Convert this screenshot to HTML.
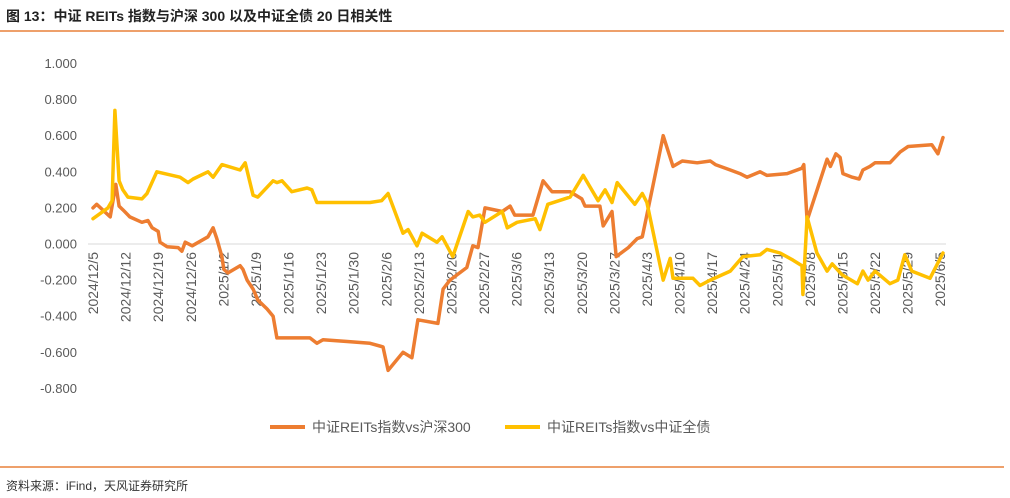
<!DOCTYPE html>
<html><head><meta charset="utf-8"><style>
body{margin:0;background:#fff;width:1010px;height:498px;overflow:hidden;font-family:"Liberation Sans","Noto Sans CJK SC",sans-serif}
</style></head><body>
<svg id="c" width="1010" height="498" style="position:absolute;left:0;top:0">
<text x="6" y="21" font-size="14" font-weight="bold" fill="#222" font-family="Liberation Sans, Noto Sans CJK SC, sans-serif">图 13：中证 REITs 指数与沪深 300 以及中证全债 20 日相关性</text>
<line x1="0" y1="31" x2="1004" y2="31" stroke="#e8803a" stroke-width="1.5"/>
<line x1="0" y1="467" x2="1004" y2="467" stroke="#e8803a" stroke-width="1.5"/>
<text x="6" y="490" font-size="12" fill="#333" font-family="Liberation Sans, Noto Sans CJK SC, sans-serif">资料来源：iFind，天风证券研究所</text>
<g id="plot"></g>
<g>
<line x1="270" y1="427" x2="305" y2="427" stroke="#ed7d31" stroke-width="4"/>
<text x="312" y="432" font-size="14" fill="#595959" font-family="Liberation Sans, Noto Sans CJK SC, sans-serif">中证REITs指数vs沪深300</text>
<line x1="505" y1="427" x2="540" y2="427" stroke="#ffc000" stroke-width="4"/>
<text x="547" y="432" font-size="14" fill="#595959" font-family="Liberation Sans, Noto Sans CJK SC, sans-serif">中证REITs指数vs中证全债</text>
</g>
</svg>
<script>
const tickValues=[1,0.8,0.6,0.4,0.2,0,-0.2,-0.4,-0.6,-0.8];
const tickLabels=["1.000","0.800","0.600","0.400","0.200","0.000","-0.200","-0.400","-0.600","-0.800"];
const xLabels=["2024/12/5","2024/12/12","2024/12/19","2024/12/26","2025/1/2","2025/1/9","2025/1/16","2025/1/23","2025/1/30","2025/2/6","2025/2/13","2025/2/20","2025/2/27","2025/3/6","2025/3/13","2025/3/20","2025/3/27","2025/4/3","2025/4/10","2025/4/17","2025/4/24","2025/5/1","2025/5/8","2025/5/15","2025/5/22","2025/5/29","2025/6/5"];
const hsDays=[0,0.8,3.7,4.9,5.6,6.4,7.9,10.5,11.8,12.7,14,14.4,15.9,18.3,19.1,19.8,21.3,24.7,25.8,26.6,27.7,28.1,29,31.6,32.2,33.1,34.4,35.4,37.4,38.7,39.5,41.7,46.6,48.1,49.4,54.6,59.5,62.3,63.4,66.6,68.5,69.8,74.1,75.2,76.7,80.3,81.6,82.7,84.2,87.9,89.6,90.6,94.5,96.7,98.6,102.5,105,105.7,108.9,109.6,111.5,112.4,115,116.9,118,120.1,122.5,124.6,126.6,129.8,132.6,133.7,136.9,139,140.5,143.3,144.8,149.1,152.3,152.7,153.4,157.7,158.4,159.6,160.5,161.1,163.1,164.6,165.4,166.9,168,171.2,173.4,175.1,180.2,181.5,182.6];
const hsVals=[0.20,0.22,0.15,0.33,0.21,0.19,0.15,0.12,0.13,0.09,0.07,0.01,-0.015,-0.02,-0.04,0.01,-0.01,0.04,0.09,0.03,-0.07,-0.14,-0.16,-0.12,-0.14,-0.20,-0.25,-0.31,-0.36,-0.40,-0.52,-0.52,-0.52,-0.55,-0.53,-0.54,-0.55,-0.57,-0.70,-0.60,-0.63,-0.42,-0.44,-0.25,-0.20,-0.13,-0.01,-0.02,0.20,0.18,0.21,0.16,0.16,0.35,0.29,0.29,0.25,0.21,0.21,0.10,0.18,-0.07,-0.02,0.03,0.04,0.30,0.60,0.43,0.46,0.45,0.46,0.44,0.41,0.39,0.37,0.40,0.38,0.39,0.42,0.44,0.13,0.47,0.43,0.50,0.48,0.39,0.37,0.36,0.41,0.43,0.45,0.45,0.51,0.54,0.55,0.50,0.59];
const bdDays=[0,3.2,4.1,4.7,5.6,6.4,7.5,10.5,11.6,13.7,18.7,20.4,21.5,24.7,25.8,27.7,31.6,32.7,34.4,35.4,38.7,39.5,40.6,42.7,46,47,48.1,54.6,59.5,62,63.4,66.6,67.7,69.6,70.7,73.9,75,77.3,80.6,81.6,83.1,84.2,87.9,89,91.1,95,96,97.7,102.5,105.3,108.5,110,111.5,112.6,116.4,118,119,122.5,124,124.6,128.9,130.4,132.6,136.9,139.6,143.3,144.8,147.6,150.4,152.3,152.5,153.4,155.5,157.7,158.8,160.9,164.2,165.4,166.5,168,171.2,172.9,174.4,175.9,179.8,182.6];
const bdVals=[0.14,0.20,0.24,0.74,0.35,0.30,0.26,0.25,0.28,0.40,0.37,0.34,0.36,0.40,0.37,0.44,0.41,0.45,0.27,0.26,0.35,0.34,0.35,0.29,0.31,0.30,0.23,0.23,0.23,0.24,0.28,0.06,0.08,-0.01,0.06,0.01,0.04,-0.07,0.18,0.15,0.16,0.12,0.18,0.09,0.12,0.14,0.08,0.22,0.26,0.38,0.24,0.30,0.23,0.34,0.22,0.28,0.23,-0.20,-0.08,-0.19,-0.19,-0.23,-0.20,-0.15,-0.07,-0.06,-0.03,-0.05,-0.09,-0.12,-0.28,0.15,-0.05,-0.15,-0.11,-0.17,-0.22,-0.15,-0.20,-0.15,-0.22,-0.20,-0.06,-0.15,-0.19,-0.05];
const NS="http://www.w3.org/2000/svg";
const g=document.getElementById('plot');
function yS(v){return 244-v*180.5;}
function xS(d){return 93+d*4.655;}
function mk(t,a){const e=document.createElementNS(NS,t);for(const k in a)e.setAttribute(k,a[k]);g.appendChild(e);return e;}
tickValues.forEach((v,i)=>{
 const t=mk('text',{x:77,y:yS(v)+4.5,'text-anchor':'end','font-size':13,fill:'#595959','font-family':'Liberation Sans, sans-serif'});
 t.textContent=tickLabels[i];
 
 
});
const zl=mk('line',{x1:88,x2:946,y1:yS(0),y2:yS(0),stroke:'#d9d9d9','stroke-width':1});


xLabels.forEach((s,i)=>{
 const x=xS(i*7)+5;const y=252;
 const t=mk('text',{x:x,y:y,'text-anchor':'end','font-size':14,fill:'#595959','font-family':'Liberation Sans, sans-serif',transform:`rotate(-90 ${x} ${y})`});
 t.textContent=s;
 
 
});
function series(days,vals,color,name){
 const d=days.map((dd,i)=>(i?'L':'M')+xS(dd).toFixed(1)+','+yS(vals[i]).toFixed(1)).join('');
 const p=mk('path',{d:d,fill:'none',stroke:color,'stroke-width':3.5,'stroke-linejoin':'round','stroke-linecap':'round'});
 
 
}
series(hsDays,hsVals,'#ed7d31','series-line-hs300');
series(bdDays,bdVals,'#ffc000','series-line-bond');
</script>
</body></html>
